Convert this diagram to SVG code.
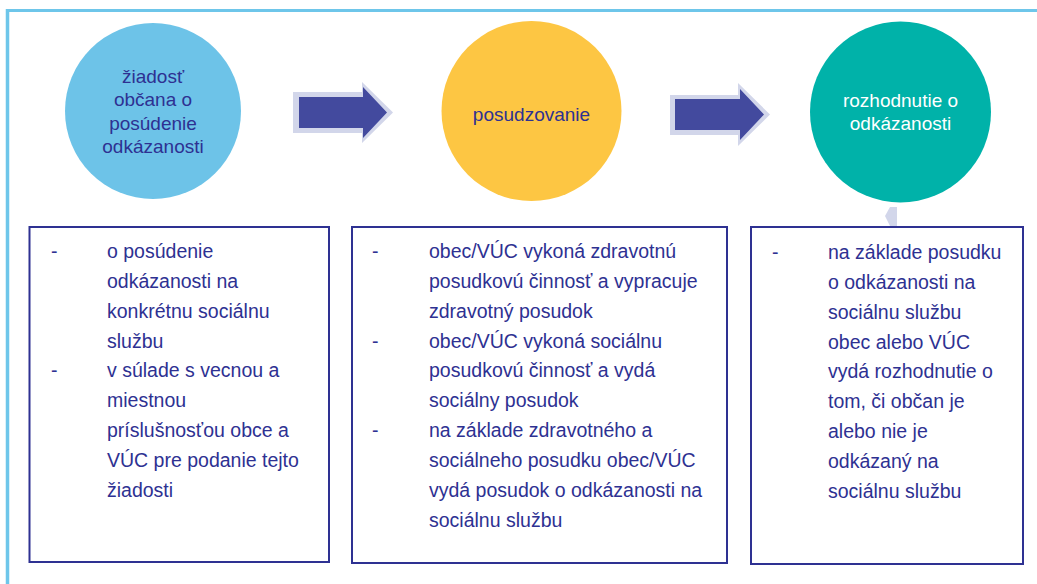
<svg xmlns="http://www.w3.org/2000/svg" width="1037" height="584" viewBox="0 0 1037 584">
<style>
.t{font-family:"Liberation Sans",Arial,sans-serif;font-size:19.5px;fill:#2E3192}
.c{font-family:"Liberation Sans",Arial,sans-serif;font-size:19px;text-anchor:middle}
.box{fill:#fff;stroke:#2E3192;stroke-width:2}
.halo{fill:#D2D6EA}
.arr{fill:#434A9E}
</style>
<rect width="1037" height="584" fill="#fff"/>
<g id="frame">
<line x1="6" y1="10.5" x2="1037" y2="10.5" stroke="#6EC6EA" stroke-width="3"/>
<line x1="7.5" y1="9" x2="7.5" y2="584" stroke="#6EC6EA" stroke-width="3.5"/>
</g>
<g id="connectors">
<polygon class="halo" points="293,92 362,92 362,82 393,112.5 362,143 362,133 293,133"/>
<polygon class="arr" points="299,97 363,97 363,87 387,112.5 363,138 363,128 299,128"/>
<polygon class="halo" points="670,95 738,95 738,83 770,114.5 738,146 738,135 670,135"/>
<polygon class="arr" points="675,99 740,99 740,89 764,114.5 740,140 740,130 675,130"/>
<polygon class="halo" points="885,216 890,207 897,207 897,226 890,226"/>
</g>
<g id="n1">
<circle cx="153" cy="111" r="88" fill="#6DC3E8"/>
<text class="c" fill="#2E3192"><tspan x="153" y="83">žiadosť</tspan><tspan x="153" y="106">občana o</tspan><tspan x="153" y="130">posúdenie</tspan><tspan x="153" y="153">odkázanosti</tspan></text>
</g>
<g id="n2">
<circle cx="531.5" cy="111" r="90" fill="#FDC643"/>
<text class="c" fill="#2E3192" x="531.5" y="121">posudzovanie</text>
</g>
<g id="n3">
<circle cx="900.5" cy="112" r="90.5" fill="#00B2A9"/>
<text class="c" fill="#fff"><tspan x="900.5" y="107">rozhodnutie o</tspan><tspan x="900.5" y="130">odkázanosti</tspan></text>
</g>
<g id="b1">
<rect class="box" x="29.5" y="227" width="299.5" height="335"/>
<text class="t"><tspan x="51" y="258">-</tspan><tspan x="51" y="377">-</tspan></text>
<text class="t">
<tspan x="107" y="258">o posúdenie</tspan>
<tspan x="107" y="288">odkázanosti na</tspan>
<tspan x="107" y="318">konkrétnu sociálnu</tspan>
<tspan x="107" y="348">službu</tspan>
<tspan x="107" y="377">v súlade s vecnou a</tspan>
<tspan x="107" y="407">miestnou</tspan>
<tspan x="107" y="437">príslušnosťou obce a</tspan>
<tspan x="107" y="467">VÚC pre podanie tejto</tspan>
<tspan x="107" y="497">žiadosti</tspan>
</text>
</g>
<g id="b2">
<rect class="box" x="352" y="227" width="375" height="336"/>
<text class="t"><tspan x="372" y="258">-</tspan><tspan x="372" y="348">-</tspan><tspan x="372" y="437">-</tspan></text>
<text class="t">
<tspan x="429" y="258">obec/VÚC vykoná zdravotnú</tspan>
<tspan x="429" y="288">posudkovú činnosť a vypracuje</tspan>
<tspan x="429" y="318">zdravotný posudok</tspan>
<tspan x="429" y="348">obec/VÚC vykoná sociálnu</tspan>
<tspan x="429" y="377">posudkovú činnosť a vydá</tspan>
<tspan x="429" y="407">sociálny posudok</tspan>
<tspan x="429" y="437">na základe zdravotného a</tspan>
<tspan x="429" y="467">sociálneho posudku obec/VÚC</tspan>
<tspan x="429" y="497">vydá posudok o odkázanosti na</tspan>
<tspan x="429" y="527">sociálnu službu</tspan>
</text>
</g>
<g id="b3">
<rect class="box" x="751" y="227" width="272" height="337"/>
<text class="t"><tspan x="772" y="259">-</tspan></text>
<text class="t">
<tspan x="828" y="259">na základe posudku</tspan>
<tspan x="828" y="289">o odkázanosti na</tspan>
<tspan x="828" y="319">sociálnu službu</tspan>
<tspan x="828" y="349">obec alebo VÚC</tspan>
<tspan x="828" y="378">vydá rozhodnutie o</tspan>
<tspan x="828" y="408">tom, či občan je</tspan>
<tspan x="828" y="438">alebo nie je</tspan>
<tspan x="828" y="468">odkázaný na</tspan>
<tspan x="828" y="498">sociálnu službu</tspan>
</text>
</g>
</svg>
